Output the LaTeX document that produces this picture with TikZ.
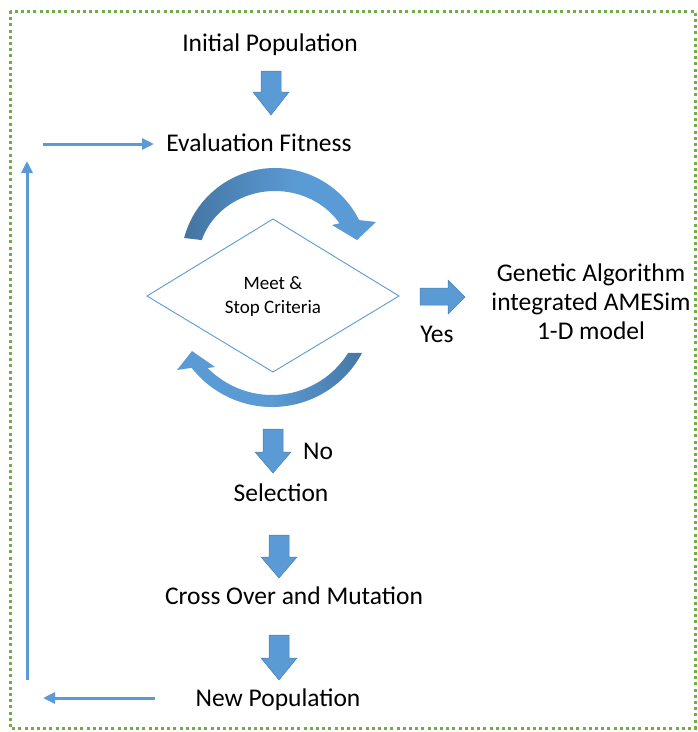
\documentclass[tikz,border=0pt]{standalone}
\usepackage{fontspec}
\setmainfont{Carlito}
\usetikzlibrary{calc,arrows.meta}
\definecolor{arrowblue}{HTML}{5B9BD5}
\definecolor{arrowdark}{HTML}{41719C}
\definecolor{bordergreen}{HTML}{70AD47}
\pgfdeclarehorizontalshading{topsh}{100bp}{color(0bp)=(arrowdark); color(22bp)=(arrowdark); color(55bp)=(arrowblue); color(100bp)=(arrowblue)}
\pgfdeclarehorizontalshading{botsh}{100bp}{color(0bp)=(arrowblue); color(50bp)=(arrowblue); color(80bp)=(arrowdark); color(100bp)=(arrowdark)}
\newcommand{\blkdown}[4]{%
  \filldraw[blk] (#1-10,#2) -- (#1+10,#2) -- (#1+10,#3) -- (#1+18,#3) -- (#1,#4) -- (#1-18,#3) -- (#1-10,#3) -- cycle;}
\begin{document}
\begin{tikzpicture}[x=1pt,y=-1pt,
  lbl/.style={inner sep=0pt, font=\fontsize{25.5}{29}\selectfont, align=center},
  small/.style={inner sep=0pt, font=\fontsize{19}{24}\selectfont, align=center},
  blk/.style={fill=arrowblue, draw=arrowdark!70!arrowblue, line width=0.5pt, line join=miter},
  thinarrow/.style={draw=arrowblue, line width=3pt, -{Triangle[length=12pt,width=11pt]}}]
\useasboundingbox (0,0) rectangle (698,732);
% border
\draw[bordergreen, line width=3pt, dash pattern=on 3pt off 3.2pt] (10,11) rectangle (695,728);
% text nodes
\node[lbl] (init) at (270,45) {Initial Population};
\node[lbl] (eval) at (259,143) {Evaluation Fitness};
\coordinate (diaL) at (147,296);
\coordinate (diaT) at (273,219);
\coordinate (diaR) at (399,296);
\coordinate (diaB) at (273,372);
\draw[arrowblue, line width=0.9pt] (diaL) -- (diaT) -- (diaR) -- (diaB) -- cycle;
\node[small] (crit) at (273,297) {Meet \&\\Stop Criteria};
\node[lbl] (yes) at (437,334) {Yes};
\node[lbl] (ga) at (591,302) {Genetic Algorithm\\integrated AMESim\\1-D model};
\node[lbl] (no) at (318,451) {No};
\node[lbl] (sel) at (281,493) {Selection};
\node[lbl] (cross) at (294,596) {Cross Over and Mutation};
\node[lbl] (newp) at (278,700) {New Population};
% block arrows
\blkdown{271}{71}{92}{115}
\blkdown{273}{429}{452}{473}
\blkdown{279}{535}{557}{578}
\blkdown{279}{635}{658}{680}
\filldraw[blk] (420,288) -- (448,288) -- (448,280) -- (465,297) -- (448,314) -- (448,305) -- (420,305) -- cycle;
% curved arrows
\coordinate (C1) at (275,262);
\coordinate (C2) at (272,305);
\shade[shading=topsh]
  ($(C1)+(-165.2:94)$) arc[start angle=-165.2, end angle=-26.5, radius=94]
  -- (376,222) -- (357,240) -- (332,225)
  -- ($(C1)+({77*cos(-33)},{71*sin(-33)})$) arc[start angle=-33, end angle=-162, x radius=77, y radius=71] -- cycle;
\shade[shading=botsh]
  ($(C2)+(28:102)$) arc[start angle=28, end angle=142, radius=102]
  -- (177,370) -- (192,351) -- (215,367)
  -- ($(C2)+(135.6:90)$) arc[start angle=135.6, end angle=32.2, radius=90] -- cycle;
% feedback connectors
\coordinate (fbbot) at (155,698);
\coordinate (fbleft) at (43,698);
\coordinate (vbot) at (27,680);
\coordinate (vtop) at (27,161);
\coordinate (hstart) at (43,144);
\coordinate (hend) at (154,144);
\draw[thinarrow] (fbbot) -- (fbleft);
\draw[thinarrow] (vbot) -- (vtop);
\draw[thinarrow] (hstart) -- (hend);
\end{tikzpicture}
\end{document}
